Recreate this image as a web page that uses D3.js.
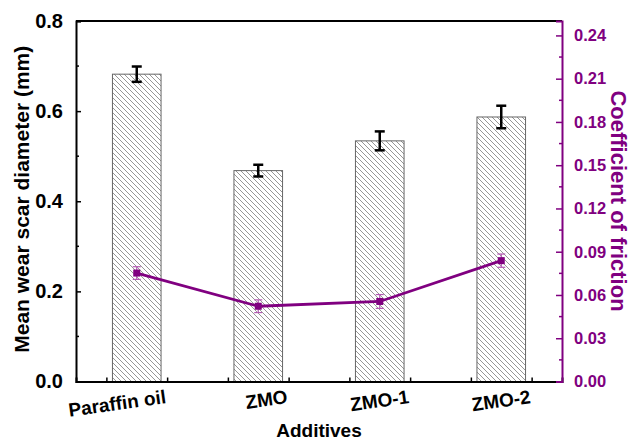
<!DOCTYPE html>
<html>
<head>
<meta charset="utf-8">
<script src="https://cdn.jsdelivr.net/npm/d3@7"></script>
<style>
body { margin: 0; background: #fff; }
text { font-family: "Liberation Sans", Arial, sans-serif; font-weight: bold; }
</style>
</head>
<body>
<div id="chart"></div>
<script>
// data
var additives = ["Paraffin oil", "ZMO", "ZMO-1", "ZMO-2"];
var wearScar = [0.682, 0.468, 0.534, 0.587];
var wearErr = [0.017, 0.013, 0.021, 0.025];
var friction = [0.0752, 0.0522, 0.0555, 0.0838];
var frictionErr = [0.0044, 0.0044, 0.0048, 0.0046];
var leftTicks = [0, 0.2, 0.4, 0.6, 0.8];
var rightTicks = [0, 0.03, 0.06, 0.09, 0.12, 0.15, 0.18, 0.21, 0.24];

var W = 631, H = 440;
var m = {left: 76, right: 562, top: 21, bottom: 381.5};
var purple = "#800080";

var svg = d3.select("#chart").append("svg")
	.attr("width", W)
	.attr("height", H);

// hatch for the bars
var defs = svg.append("defs");
defs.append("pattern")
	.attr("id", "hatch")
	.attr("patternUnits", "userSpaceOnUse")
	.attr("width", 5)
	.attr("height", 5)
	.append("path")
	.attr("d", "M-1,-1 L6,6 M-1,4 L1,6 M4,-1 L6,1")
	.attr("stroke", "#8a8a8a")
	.attr("stroke-width", 0.9);

var x = d3.scaleLinear().domain([-0.5, 3.5]).range([m.left, m.right]);
var yL = d3.scaleLinear().domain([0, 0.8]).range([m.bottom, m.top]);
var yR = d3.scaleLinear().domain([0, 0.25]).range([m.bottom, m.top]);
var bw = 0.4;

// bars
svg.selectAll("rect.bar")
	.data(wearScar)
	.enter()
	.append("rect")
	.attr("class", "bar")
	.attr("x", function(d, i) { return x(i - bw/2); })
	.attr("width", function() { return x(bw) - x(0); })
	.attr("y", function(d) { return yL(d); })
	.attr("height", function(d) { return yL(0) - yL(d); })
	.attr("fill", "url(#hatch)")
	.attr("stroke", "#666")
	.attr("stroke-width", 1);

// bar error bars
var eb = svg.append("g").attr("stroke", "#000").attr("stroke-width", 2.5);
wearScar.forEach(function(d, i) {
	var cx = x(i), t = yL(d + wearErr[i]), b = yL(d - wearErr[i]);
	eb.append("line").attr("x1", cx).attr("x2", cx).attr("y1", t).attr("y2", b);
	eb.append("line").attr("x1", cx - 5).attr("x2", cx + 5).attr("y1", t).attr("y2", t);
	eb.append("line").attr("x1", cx - 5).attr("x2", cx + 5).attr("y1", b).attr("y2", b);
});

// friction line
var line = d3.line()
	.x(function(d, i) { return x(i); })
	.y(function(d) { return yR(d); });
svg.append("path")
	.datum(friction)
	.attr("d", line)
	.attr("fill", "none")
	.attr("stroke", purple)
	.attr("stroke-width", 2.8);

var fe = svg.append("g").attr("stroke", "#b45ab4").attr("stroke-width", 1.2);
friction.forEach(function(d, i) {
	var cx = x(i), t = yR(d + frictionErr[i]), b = yR(d - frictionErr[i]);
	fe.append("line").attr("x1", cx).attr("x2", cx).attr("y1", t).attr("y2", b);
	fe.append("line").attr("x1", cx - 4).attr("x2", cx + 4).attr("y1", t).attr("y2", t);
	fe.append("line").attr("x1", cx - 4).attr("x2", cx + 4).attr("y1", b).attr("y2", b);
});

svg.selectAll("rect.pt")
	.data(friction)
	.enter()
	.append("rect")
	.attr("class", "pt")
	.attr("x", function(d, i) { return x(i) - 3.5; })
	.attr("y", function(d) { return yR(d) - 3.5; })
	.attr("width", 7)
	.attr("height", 7)
	.attr("fill", purple);

// frame top
svg.append("line")
	.attr("x1", m.left).attr("x2", m.right)
	.attr("y1", m.top).attr("y2", m.top)
	.attr("stroke", "#000").attr("stroke-width", 2);

// left axis
var leftAxis = svg.append("g")
	.attr("transform", "translate(" + m.left + ",0)")
	.call(d3.axisLeft(yL).tickValues(leftTicks).tickFormat(d3.format(".1f")).tickSize(-5).tickPadding(13));
leftAxis.select(".domain").attr("stroke-width", 2);
leftAxis.selectAll(".tick line").attr("stroke-width", 1.5);
leftAxis.selectAll("text").attr("font-size", 20).attr("fill", "#000");
leftAxis.append("g").selectAll("line")
	.data([0.1, 0.3, 0.5, 0.7])
	.enter()
	.append("line")
	.attr("x1", 0).attr("x2", 3)
	.attr("y1", function(d) { return yL(d); })
	.attr("y2", function(d) { return yL(d); })
	.attr("stroke", "#000").attr("stroke-width", 1.5);

// bottom axis
var bottomAxis = svg.append("g")
	.attr("transform", "translate(0," + m.bottom + ")")
	.call(d3.axisBottom(x).tickValues([-0.25, 0.25, 0.75, 1.25, 1.75, 2.25, 2.75, 3.25]).tickFormat("").tickSize(-4));
bottomAxis.select(".domain").attr("stroke-width", 2);
bottomAxis.selectAll(".tick line").attr("stroke-width", 1.5);

// category labels, tilted and anchored at their right end
svg.selectAll("text.cat")
	.data(additives)
	.enter()
	.append("text")
	.attr("class", "cat")
	.attr("text-anchor", "end")
	.attr("font-size", 19)
	.attr("transform", function(d, i) {
		return "translate(" + (x(i) + 30) + ",403) rotate(-8)";
	})
	.text(function(d) { return d; });

// right axis
var rightAxis = svg.append("g")
	.attr("transform", "translate(" + m.right + ",0)")
	.call(d3.axisRight(yR).tickValues(rightTicks).tickFormat(d3.format(".2f")).tickSize(-6).tickPadding(12));
rightAxis.select(".domain").attr("stroke", purple).attr("stroke-width", 2);
rightAxis.selectAll(".tick line").attr("stroke", purple).attr("stroke-width", 1.5);
rightAxis.selectAll("text").attr("font-size", 16.5).attr("fill", purple);
rightAxis.append("g").selectAll("line")
	.data([0.015, 0.045, 0.075, 0.105, 0.135, 0.165, 0.195, 0.225])
	.enter()
	.append("line")
	.attr("x1", 0).attr("x2", -3)
	.attr("y1", function(d) { return yR(d); })
	.attr("y2", function(d) { return yR(d); })
	.attr("stroke", purple).attr("stroke-width", 1.5);

// titles
svg.append("text")
	.attr("transform", "translate(29," + ((m.top + m.bottom) / 2 - 2) + ") rotate(-90)")
	.attr("text-anchor", "middle")
	.attr("font-size", 21)
	.text("Mean wear scar diameter (mm)");

svg.append("text")
	.attr("transform", "translate(611,201) rotate(90)")
	.attr("text-anchor", "middle")
	.attr("font-size", 22)
	.attr("fill", purple)
	.text("Coefficient of friction");

svg.append("text")
	.attr("x", 319)
	.attr("y", 437)
	.attr("text-anchor", "middle")
	.attr("font-size", 19)
	.text("Additives");
</script>
</body>
</html>
